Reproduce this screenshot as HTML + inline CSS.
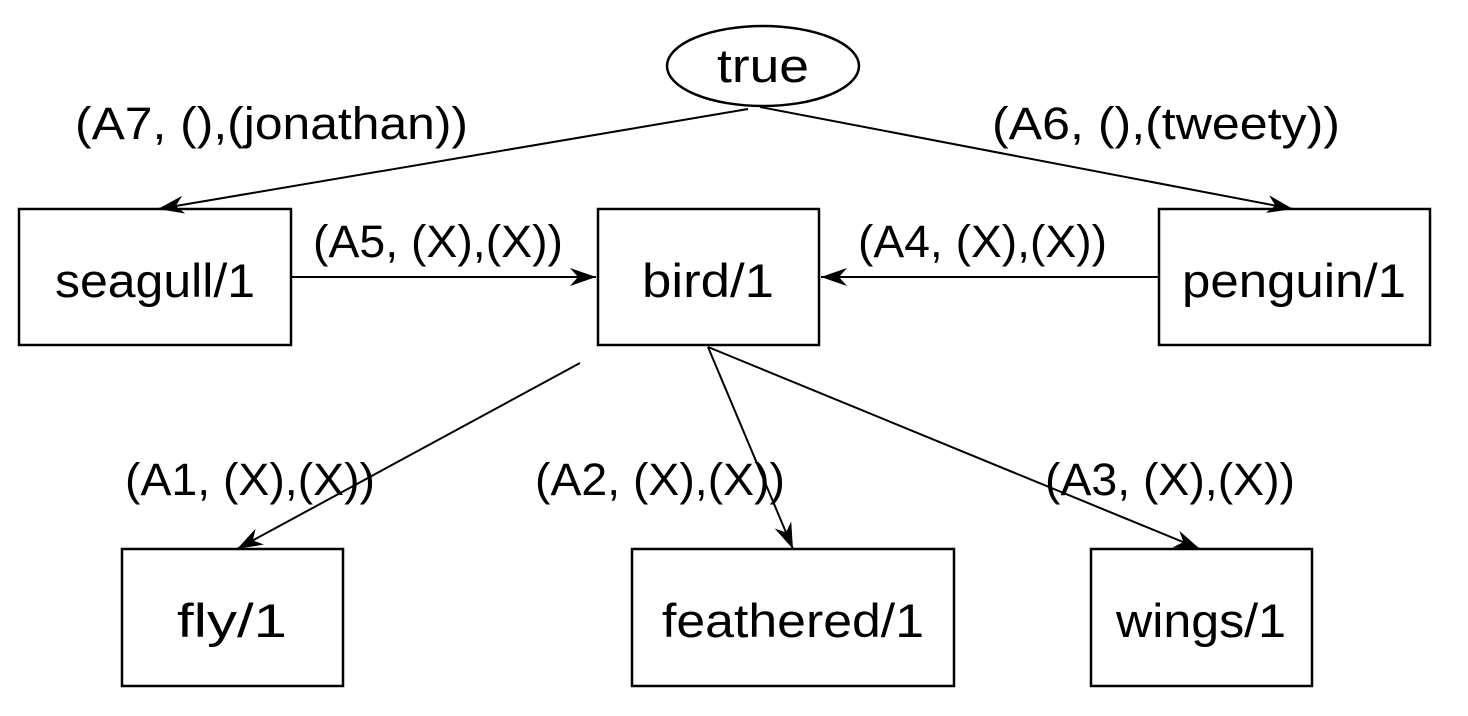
<!DOCTYPE html>
<html><head><style>body{margin:0;background:#fff}svg{display:block}</style></head><body>
<svg width="1468" height="716" xmlns="http://www.w3.org/2000/svg" font-family="Liberation Sans, sans-serif" fill="#000">
<defs><marker id="a" viewBox="0 0 26 18" refX="26" refY="9" markerWidth="26" markerHeight="18" markerUnits="userSpaceOnUse" orient="auto"><path d="M0,0 L26,9 L0,18 L8,9 Z"/></marker></defs>
<g fill="none" stroke="#000" stroke-width="2.5">
<ellipse cx="763" cy="66" rx="96" ry="40"/>
<rect x="19" y="209" width="272" height="136"/>
<rect x="598" y="209" width="221" height="136"/>
<rect x="1159" y="209" width="271" height="136"/>
<rect x="122" y="549" width="221" height="137"/>
<rect x="632" y="549" width="322" height="137"/>
<rect x="1091" y="549" width="221" height="137"/>
</g>
<g stroke="#000" stroke-width="2" marker-end="url(#a)">
<line x1="748" y1="109" x2="158" y2="209"/>
<line x1="760" y1="107" x2="1293" y2="209"/>
<line x1="291" y1="277" x2="596" y2="277"/>
<line x1="1159" y1="277" x2="821" y2="277"/>
<line x1="580" y1="363" x2="237" y2="549"/>
<line x1="708" y1="347" x2="793" y2="549"/>
<line x1="708" y1="347" x2="1200" y2="549"/>
</g>
<g font-size="47" text-anchor="middle">
<text x="763" y="82" textLength="92" lengthAdjust="spacingAndGlyphs">true</text>
<text x="155" y="297" textLength="200" lengthAdjust="spacingAndGlyphs">seagull/1</text>
<text x="708" y="297" textLength="132" lengthAdjust="spacingAndGlyphs">bird/1</text>
<text x="1294" y="297" textLength="224" lengthAdjust="spacingAndGlyphs">penguin/1</text>
<text x="232" y="637" textLength="110" lengthAdjust="spacingAndGlyphs">fly/1</text>
<text x="793" y="637" textLength="262" lengthAdjust="spacingAndGlyphs">feathered/1</text>
<text x="1201" y="637" textLength="170" lengthAdjust="spacingAndGlyphs">wings/1</text>
</g>
<g font-size="45">
<text x="75" y="139" textLength="393" lengthAdjust="spacingAndGlyphs">(A7, (),(jonathan))</text>
<text x="992" y="139" textLength="348" lengthAdjust="spacingAndGlyphs">(A6, (),(tweety))</text>
<text x="313" y="257" textLength="250" lengthAdjust="spacingAndGlyphs">(A5, (X),(X))</text>
<text x="858" y="257" textLength="249" lengthAdjust="spacingAndGlyphs">(A4, (X),(X))</text>
<text x="125" y="495" textLength="250" lengthAdjust="spacingAndGlyphs">(A1, (X),(X))</text>
<text x="535" y="495" textLength="250" lengthAdjust="spacingAndGlyphs">(A2, (X),(X))</text>
<text x="1045" y="495" textLength="250" lengthAdjust="spacingAndGlyphs">(A3, (X),(X))</text>
</g>
</svg>
</body></html>
